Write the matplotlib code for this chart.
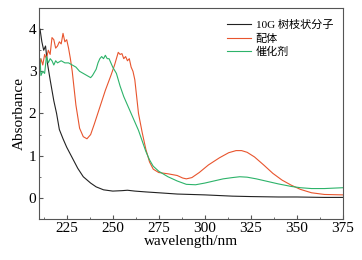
import matplotlib.pyplot as plt
from matplotlib.ticker import MultipleLocator

# data
dend_x = [210.5, 211.5, 212.5, 213.5, 214.5, 216, 218, 219.5, 221, 223, 225, 228, 231, 234, 238, 241, 245, 250,
          255, 258, 262, 268, 275, 285, 300, 315, 325, 340, 350, 365, 375]
dend_y = [4.0, 3.7, 3.5, 3.6, 3.2, 2.8, 2.3, 2.0, 1.62, 1.4, 1.2, 0.95, 0.7, 0.5, 0.35, 0.26, 0.19, 0.16,
          0.17, 0.18, 0.16, 0.14, 0.12, 0.09, 0.07, 0.04, 0.03, 0.02, 0.02, 0.01, 0.01]

lig_x = [210, 211, 212, 213, 214, 215, 216, 217, 218, 219, 220, 221, 222, 223, 224, 225, 226, 227, 228, 229,
         230, 232, 234, 236, 238, 240, 243, 246, 249, 251, 252, 253, 254, 255, 256, 257, 258, 259, 260, 261,
         262, 263, 264, 266, 268, 270, 272, 275, 280, 285, 288, 290, 293, 297, 302, 308, 313, 317, 320, 323,
         327, 332, 337, 342, 347, 352, 358, 365, 375]
lig_y = [3.0, 3.3, 3.15, 3.4, 3.3, 3.5, 3.4, 3.8, 3.75, 3.55, 3.6, 3.7, 3.65, 3.9, 3.7, 3.75, 3.55, 3.3, 3.0, 2.6,
         2.2, 1.65, 1.45, 1.4, 1.5, 1.75, 2.15, 2.55, 2.9, 3.15, 3.3, 3.45, 3.4, 3.42, 3.3, 3.35, 3.25, 3.3, 3.1, 3.0,
         2.8, 2.4, 2.0, 1.55, 1.15, 0.85, 0.68, 0.6, 0.57, 0.53, 0.47, 0.45, 0.48, 0.6, 0.78, 0.95, 1.07, 1.12, 1.12, 1.08,
         0.97, 0.78, 0.58, 0.42, 0.3, 0.2, 0.12, 0.08, 0.07]

cat_x = [209.5, 210.5, 211, 212, 213, 214, 215, 216, 217, 218, 219, 220, 222, 224, 226, 228, 230, 232, 234,
         236, 238, 239, 241, 242, 243, 244, 245, 246, 247, 248, 249, 250, 252, 254, 256, 258, 260, 262, 264,
         266, 268, 270, 272, 275, 280, 285, 290, 295, 300, 305, 310, 315, 319, 323, 328, 333, 340, 347, 352,
         358, 365, 370, 375]
cat_y = [2.8, 3.3, 2.9, 3.0, 2.95, 3.35, 3.2, 3.3, 3.25, 3.15, 3.25, 3.2, 3.25, 3.2, 3.2, 3.15, 3.1, 3.0, 2.95,
         2.9, 2.85, 2.9, 3.05, 3.2, 3.3, 3.35, 3.3, 3.38, 3.3, 3.3, 3.2, 3.1, 2.95, 2.65, 2.4, 2.2, 2.0, 1.8, 1.6,
         1.35, 1.1, 0.9, 0.75, 0.63, 0.5, 0.4, 0.32, 0.31, 0.35, 0.4, 0.45, 0.48, 0.5, 0.49, 0.45, 0.4, 0.33, 0.27, 0.24,
         0.22, 0.22, 0.23, 0.24]

labels = ['10G 树枝状分子', '配体', '催化剂']
colors = ['#222222', '#e8552e', '#2db36a']

plt.rcParams['font.family'] = ['Liberation Serif', 'Noto Sans CJK SC']

fig = plt.figure(figsize=(3.62, 2.6), dpi=100)
ax = fig.add_axes([0.108, 0.158, 0.839, 0.811])

ax.plot(dend_x, dend_y, color=colors[0], lw=0.8, label=labels[0])
ax.plot(lig_x, lig_y, color=colors[1], lw=0.8, label=labels[1])
ax.plot(cat_x, cat_y, color=colors[2], lw=0.8, label=labels[2])

ax.set_xlim(210, 375)
ax.set_ylim(-0.5, 4.5)
ax.xaxis.set_major_locator(MultipleLocator(25))
ax.xaxis.set_minor_locator(MultipleLocator(12.5))
ax.yaxis.set_major_locator(MultipleLocator(1))
ax.yaxis.set_minor_locator(MultipleLocator(0.5))
ax.tick_params(which='both', direction='in', labelsize=11, pad=2, color='#555555')
ax.tick_params(which='major', length=3)
ax.tick_params(which='minor', length=1.5)
for s in ax.spines.values():
    s.set_color('#555555')
    s.set_linewidth(0.8)

ax.set_xlabel('wavelength/nm', fontsize=11, labelpad=0)
ax.set_ylabel('Absorbance', fontsize=11, labelpad=2)

leg = ax.legend(loc='upper right', bbox_to_anchor=(0.99, 0.975), frameon=False,
                handlelength=2.2, handletextpad=0.4, labelspacing=0.3, borderaxespad=0.2,
                prop={'family': ['Liberation Serif', 'Noto Sans CJK SC'], 'size': 8})

fig.savefig('out.png', dpi=100)
